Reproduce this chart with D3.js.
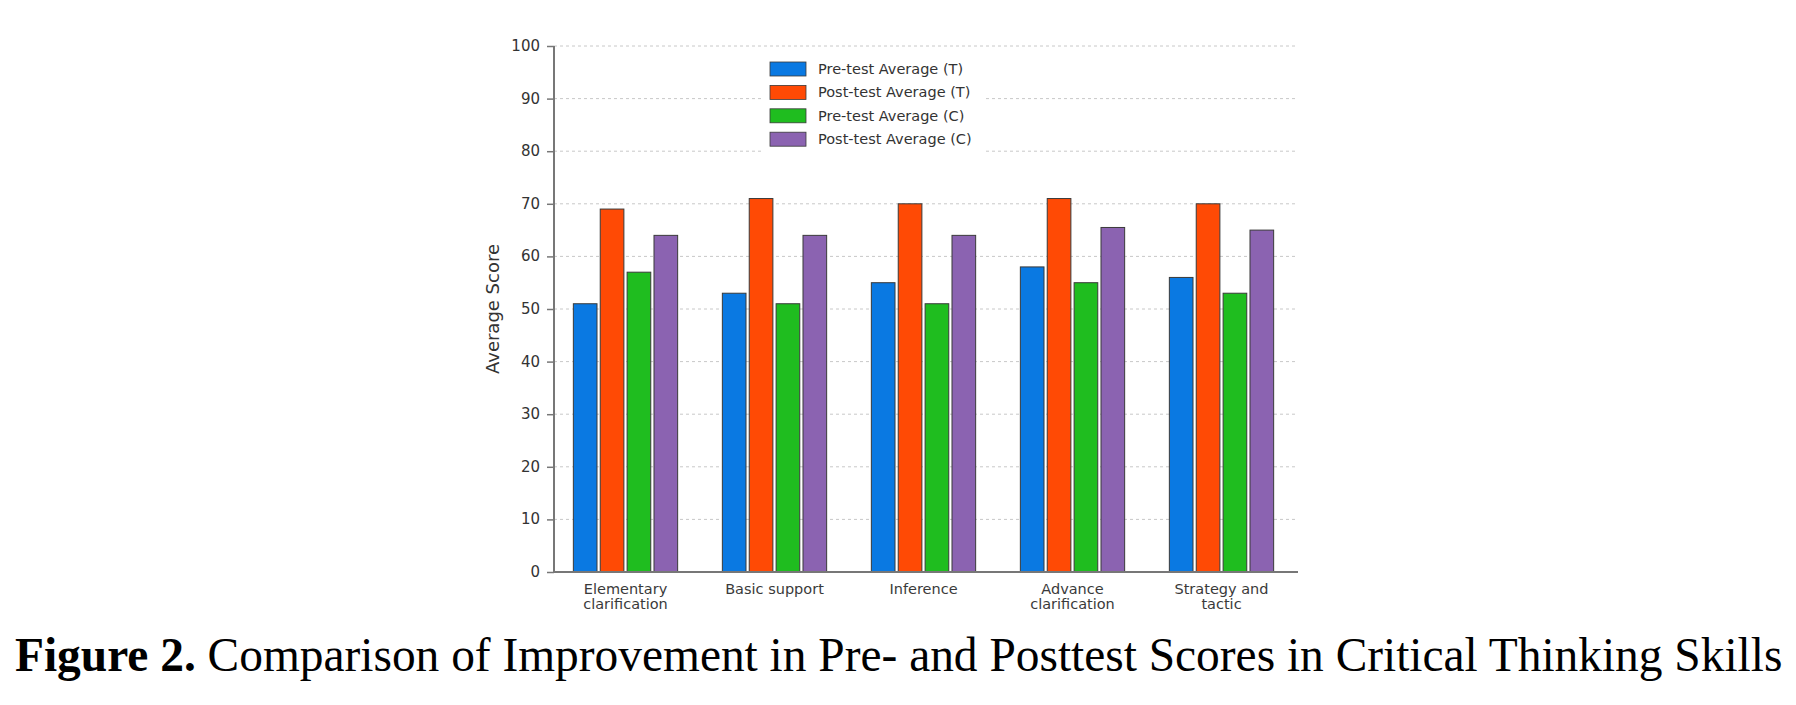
<!DOCTYPE html>
<html>
<head>
<meta charset="utf-8">
<script src="https://cdn.jsdelivr.net/npm/d3@7"></script>
<style>
  html, body { margin: 0; padding: 0; background: #fff; overflow: hidden; }
  svg { display: block; }
  text { font-family: "DejaVu Sans", sans-serif; fill: #333; }
</style>
</head>
<body>
<div id="plot"></div>
<script>
// Width and height
const w = 1796;
const h = 705;
const margin = {top: 46, right: 498, bottom: 133, left: 554};
const innerHeight = h - margin.top - margin.bottom;
const innerWidth = w - margin.left - margin.right;

// data
const categories = ["Elementary\nclarification", "Basic support", "Inference", "Advance\nclarification", "Strategy and\ntactic"];
const seriesNames = ["Pre-test Average (T)", "Post-test Average (T)", "Pre-test Average (C)", "Post-test Average (C)"];
const seriesColors = ["#0a79e2", "#ff4a05", "#1fbd1f", "#8b63b1"];
const preT = [51, 53, 55, 58, 56];
const postT = [69, 71, 70, 71, 70];
const preC = [57, 51, 51, 55, 53];
const postC = [64, 64, 64, 65.5, 65];
const yTicks = [0, 10, 20, 30, 40, 50, 60, 70, 80, 90, 100];
const caption = ["Figure 2.", " Comparison of Improvement in Pre- and Posttest Scores in Critical Thinking Skills"];

const series = [preT, postT, preC, postC];

// create SVG element
const svg = d3.select("div#plot")
  .append("svg")
    .attr("width", w)
    .attr("height", h);

svg.append("rect")
  .attr("width", w)
  .attr("height", h)
  .attr("fill", "#fff");

// scales in page coordinates
const xScale = d3.scaleBand()
  .domain(categories)
  .range([margin.left - 3, margin.left + innerWidth - 2])
  .paddingInner(0.3)
  .paddingOuter(0.15);

const xInner = d3.scaleBand()
  .domain(d3.range(series.length))
  .range([0, xScale.bandwidth()])
  .paddingInner(0.12);

const yScale = d3.scaleLinear()
  .domain([0, 100])
  .range([margin.top + innerHeight, margin.top]);

const x0 = margin.left;
const x1 = margin.left + innerWidth;
const yBase = yScale(0);

// gridlines
svg.append("g")
  .attr("id", "grid")
  .selectAll("line")
  .data(yTicks.filter(d => d > 0))
  .enter()
  .append("line")
    .attr("x1", x0)
    .attr("x2", x1)
    .attr("y1", d => yScale(d))
    .attr("y2", d => yScale(d))
    .attr("stroke", "#c8c8c8")
    .attr("stroke-width", 1)
    .attr("stroke-dasharray", "3,3");

// bars
const flat = [];
categories.forEach((c, i) => series.forEach((s, k) => flat.push({c: c, k: k, v: s[i]})));

svg.append("g")
  .attr("id", "bars")
  .selectAll("rect")
  .data(flat)
  .enter()
  .append("rect")
    .attr("x", d => xScale(d.c) + xInner(d.k))
    .attr("y", d => yScale(d.v))
    .attr("width", xInner.bandwidth())
    .attr("height", d => yBase - yScale(d.v))
    .attr("fill", d => seriesColors[d.k])
    .attr("stroke", "#3a3a3a")
    .attr("stroke-width", 1);

// y-axis ticks
const yAxis = d3.axisLeft()
  .scale(yScale)
  .tickValues(yTicks)
  .tickSize(7)
  .tickFormat("");

const yg = svg.append("g")
  .attr("id", "yaxis")
  .attr("transform", `translate (${x0}, 0)`)
  .call(yAxis);
yg.select(".domain").remove();
yg.selectAll(".tick line").attr("stroke", "#777").attr("stroke-width", 1.5);

// y tick labels
svg.append("g")
  .attr("id", "ylabels")
  .selectAll("text")
  .data(yTicks)
  .enter()
  .append("text")
    .attr("x", x0 - 14)
    .attr("y", d => yScale(d) + 5)
    .attr("text-anchor", "end")
    .style("font-size", "15px")
    .text(d => d);

// axis lines
svg.append("line")
  .attr("x1", x0).attr("x2", x0)
  .attr("y1", margin.top).attr("y2", yBase)
  .attr("stroke", "#777").attr("stroke-width", 2);
svg.append("line")
  .attr("x1", x0 - 1).attr("x2", x1)
  .attr("y1", yBase).attr("y2", yBase)
  .attr("stroke", "#777").attr("stroke-width", 2);

// x labels
const xl = svg.selectAll("text.xlab")
  .data(categories)
  .enter()
  .append("text")
    .attr("class", "xlab")
    .attr("text-anchor", "middle")
    .attr("x", d => xScale(d) + xScale.bandwidth() / 2)
    .attr("y", yBase + 22)
    .style("font-size", "14.5px")
    .style("fill", "#3a3a3a");
xl.selectAll("tspan")
  .data(d => d.split("\n"))
  .enter()
  .append("tspan")
    .attr("x", function() { return d3.select(this.parentNode).attr("x"); })
    .attr("dy", (d, i) => i === 0 ? 0 : 14.5)
    .text(d => d);

// y-axis label
const ylx = x0 - 55;
const yly = margin.top + innerHeight / 2;
svg.append("text")
  .attr("id", "ylab")
  .attr("x", ylx)
  .attr("y", yly)
  .attr("transform", `rotate(-90, ${ylx}, ${yly})`)
  .attr("text-anchor", "middle")
  .style("font-size", "18px")
  .text("Average Score");

// legend
const lx = 763;
const ly = 52;

svg.append("rect")
  .attr("x", lx)
  .attr("y", ly)
  .attr("width", 222)
  .attr("height", 104)
  .attr("fill", "#fff");

svg.append("g")
  .attr("id", "legend-keys")
  .selectAll("rect")
  .data(seriesNames)
  .enter()
  .append("rect")
    .attr("x", lx + 7)
    .attr("y", (d, i) => ly + 10 + i * 23.4)
    .attr("width", 36)
    .attr("height", 14)
    .attr("fill", (d, i) => seriesColors[i])
    .attr("stroke", "#3a3a3a")
    .attr("stroke-width", 0.8);

svg.append("g")
  .attr("id", "legend-text")
  .selectAll("text")
  .data(seriesNames)
  .enter()
  .append("text")
    .attr("x", lx + 55)
    .attr("y", (d, i) => ly + 22 + i * 23.4)
    .style("font-size", "14.5px")
    .text(d => d);

// caption
const cap = svg.append("text")
  .attr("id", "caption")
  .attr("x", 15)
  .attr("y", 671)
  .style("font-family", "'Liberation Serif', 'Times New Roman', serif")
  .style("font-size", "48px")
  .style("fill", "#000");
cap.selectAll("tspan")
  .data(caption)
  .enter()
  .append("tspan")
    .style("font-weight", (d, i) => i === 0 ? "bold" : "normal")
    .style("fill", "#000")
    .text(d => d);

// squeeze caption to the width it has in the figure
const capW = cap.node().getComputedTextLength();
const targetW = 1768;
cap.attr("transform", `translate (15, 0) scale (${targetW / capW}, 1) translate (-15, 0)`);
</script>
</body>
</html>
